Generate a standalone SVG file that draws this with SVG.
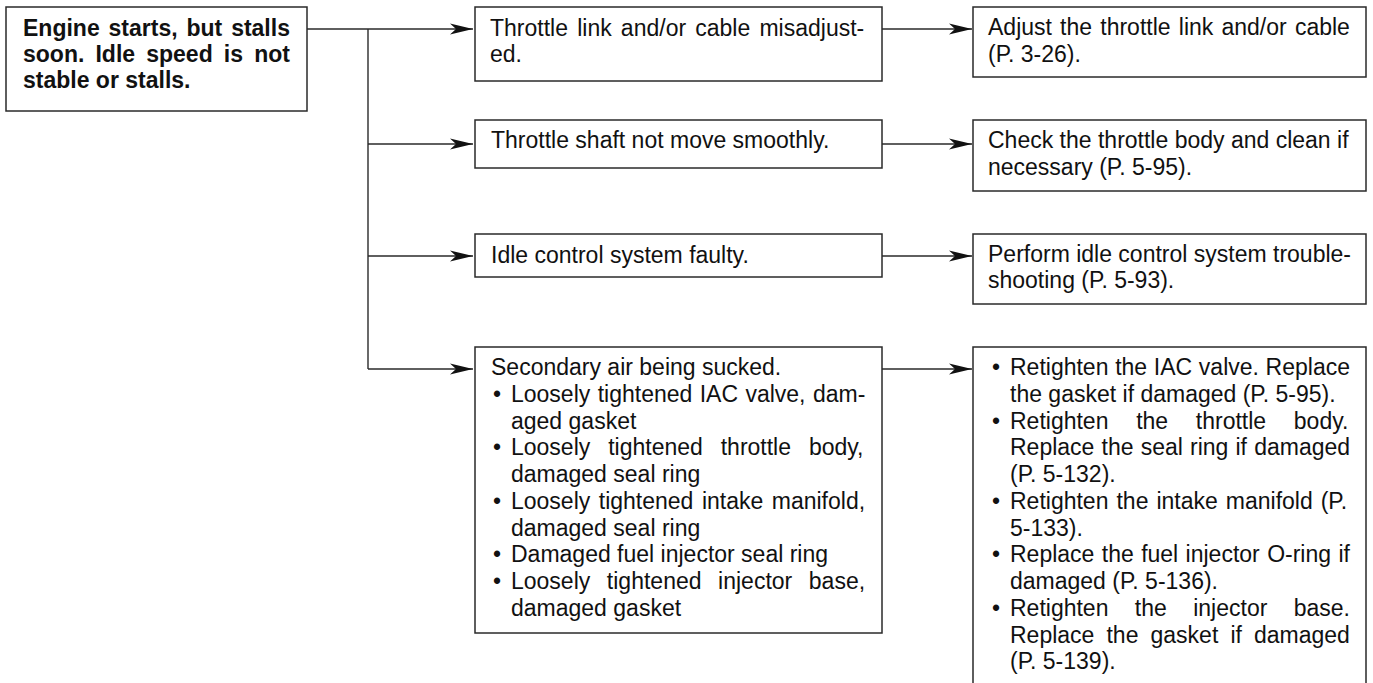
<svg xmlns="http://www.w3.org/2000/svg" width="1373" height="683" viewBox="0 0 1373 683">
<style>
.bx{fill:#fff;stroke:#2a2a2a;stroke-width:1.5}
.t{font-family:"Liberation Sans",Arial,Helvetica,sans-serif;font-size:23px;fill:#111}
.tb{font-family:"Liberation Sans",Arial,Helvetica,sans-serif;font-size:23px;font-weight:bold;fill:#111}
.ln{fill:none;stroke:#2a2a2a;stroke-width:1.4}
</style>
<defs>
<marker id="ah" markerWidth="24" markerHeight="12" refX="23" refY="6" orient="auto" markerUnits="userSpaceOnUse">
<path d="M0,0.5 L23,6 L0,11.5 L6,6 Z" fill="#111"/>
</marker>
</defs>
<rect width="1373" height="683" fill="#fff"/>
<g id="connectors">
<path class="ln" d="M307,29 H473" marker-end="url(#ah)"/>
<path class="ln" d="M368,29 V369"/>
<path class="ln" d="M368,144 H473" marker-end="url(#ah)"/>
<path class="ln" d="M368,256 H473" marker-end="url(#ah)"/>
<path class="ln" d="M368,369 H473" marker-end="url(#ah)"/>
<path class="ln" d="M882,29 H972" marker-end="url(#ah)"/>
<path class="ln" d="M882,144 H972" marker-end="url(#ah)"/>
<path class="ln" d="M882,256 H972" marker-end="url(#ah)"/>
<path class="ln" d="M882,369 H972" marker-end="url(#ah)"/>
</g>
<g id="n-start">
<rect class="bx" x="6" y="7" width="301" height="104"/>
<text class="tb" x="23" y="36" style="word-spacing:2.5px">Engine starts, but stalls</text>
<text class="tb" x="23" y="62" style="word-spacing:4.75px">soon. Idle speed is not</text>
<text class="tb" x="23" y="88">stable or stalls.</text>
</g>
<g id="n-cause1">
<rect class="bx" x="475" y="7" width="407" height="74"/>
<text class="t" x="490" y="36" style="word-spacing:2.8px">Throttle link and/or cable misadjust-</text>
<text class="t" x="490" y="62">ed.</text>
</g>
<g id="n-cause2">
<rect class="bx" x="475" y="120" width="407" height="48"/>
<text class="t" x="491" y="148">Throttle shaft not move smoothly.</text>
</g>
<g id="n-cause3">
<rect class="bx" x="475" y="234" width="407" height="43"/>
<text class="t" x="491" y="263">Idle control system faulty.</text>
</g>
<g id="n-cause4">
<rect class="bx" x="475" y="347" width="407" height="286"/>
<text class="t" x="491" y="375">Secondary air being sucked.</text>
<text class="t" x="493" y="402">•</text>
<text class="t" x="511" y="402" style="word-spacing:1px">Loosely tightened IAC valve, dam-</text>
<text class="t" x="511" y="428.5">aged gasket</text>
<text class="t" x="493" y="455">•</text>
<text class="t" x="511" y="455" style="word-spacing:11.5px">Loosely tightened throttle body,</text>
<text class="t" x="511" y="482">damaged seal ring</text>
<text class="t" x="493" y="509">•</text>
<text class="t" x="511" y="509" style="word-spacing:2.1px">Loosely tightened intake manifold,</text>
<text class="t" x="511" y="535.5">damaged seal ring</text>
<text class="t" x="493" y="562">•</text>
<text class="t" x="511" y="562">Damaged fuel injector seal ring</text>
<text class="t" x="493" y="589">•</text>
<text class="t" x="511" y="589" style="word-spacing:10.2px">Loosely tightened injector base,</text>
<text class="t" x="511" y="616">damaged gasket</text>
</g>
<g id="n-fix1">
<rect class="bx" x="973" y="7" width="393" height="70"/>
<text class="t" x="988" y="35" style="word-spacing:1.8px">Adjust the throttle link and/or cable</text>
<text class="t" x="988" y="62">(P. 3-26).</text>
</g>
<g id="n-fix2">
<rect class="bx" x="973" y="120" width="393" height="71"/>
<text class="t" x="988" y="148">Check the throttle body and clean if</text>
<text class="t" x="988" y="175">necessary (P. 5-95).</text>
</g>
<g id="n-fix3">
<rect class="bx" x="973" y="234" width="393" height="70"/>
<text class="t" x="988" y="262">Perform idle control system trouble-</text>
<text class="t" x="988" y="288">shooting (P. 5-93).</text>
</g>
<g id="n-fix4">
<path class="bx" d="M973,683 V347 H1366 V683"/>
<text class="t" x="992" y="375">•</text>
<text class="t" x="1010" y="375" style="word-spacing:0.3px">Retighten the IAC valve. Replace</text>
<text class="t" x="1010" y="402">the gasket if damaged (P. 5-95).</text>
<text class="t" x="992" y="428.5">•</text>
<text class="t" x="1010" y="428.5" style="word-spacing:21.3px">Retighten the throttle body.</text>
<text class="t" x="1010" y="455" style="word-spacing:0.76px">Replace the seal ring if damaged</text>
<text class="t" x="1010" y="482">(P. 5-132).</text>
<text class="t" x="992" y="509">•</text>
<text class="t" x="1010" y="509" style="word-spacing:1.6px">Retighten the intake manifold (P.</text>
<text class="t" x="1010" y="535.5">5-133).</text>
<text class="t" x="992" y="562">•</text>
<text class="t" x="1010" y="562" style="word-spacing:1px">Replace the fuel injector O-ring if</text>
<text class="t" x="1010" y="589">damaged (P. 5-136).</text>
<text class="t" x="992" y="616">•</text>
<text class="t" x="1010" y="616" style="word-spacing:20px">Retighten the injector base.</text>
<text class="t" x="1010" y="642.5" style="word-spacing:5.7px">Replace the gasket if damaged</text>
<text class="t" x="1010" y="669">(P. 5-139).</text>
</g>
</svg>
